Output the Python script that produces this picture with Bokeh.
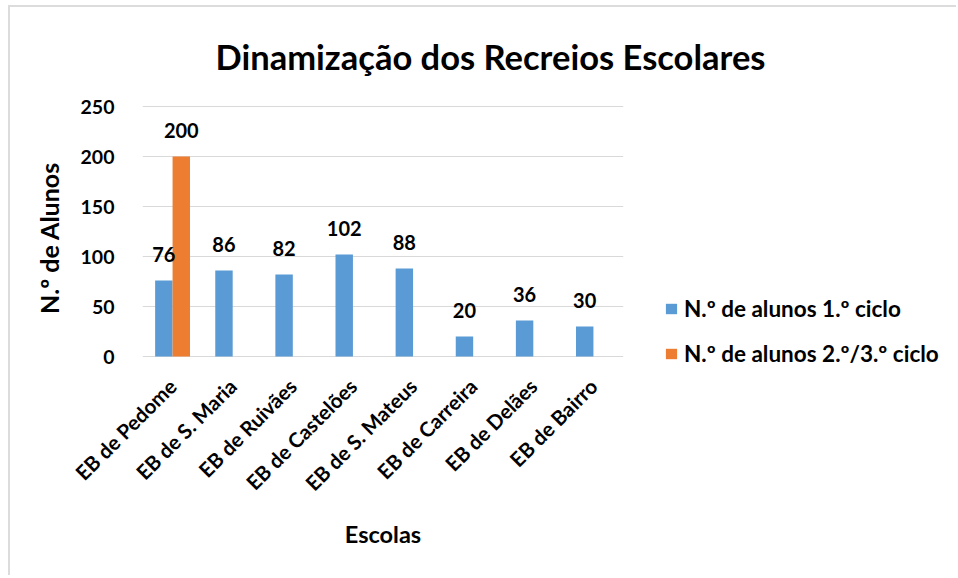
from bokeh.plotting import figure
from bokeh.models import (FactorRange, Range1d, FixedTicker, Legend, LegendItem,
                          ColumnDataSource, Label)
from bokeh.layouts import column, row
from bokeh.transform import dodge
from bokeh.core.properties import value
from bokeh.embed import file_html
from bokeh.resources import INLINE
import math

# ---- data ----
escolas = ["EB de Pedome", "EB de S. Maria", "EB de Ruivães", "EB de Castelões",
           "EB de S. Mateus", "EB de Carreira", "EB de Delães", "EB de Bairro"]
ciclo1 = [76, 86, 82, 102, 88, 20, 36, 30]
ciclo23 = [200, 0, 0, 0, 0, 0, 0, 0]
serie_nomes = ["N.º de alunos 1.º ciclo", "N.º de alunos 2.º/3.º ciclo"]
y_ticks = [0, 50, 100, 150, 200, 250]
titulo = "Dinamização dos Recreios Escolares"
eixo_y = "N.º de Alunos"
eixo_x = "Escolas"

BLUE = "#5B9BD5"
ORANGE = "#ED7D31"
GRID = "#D9D9D9"
FONT = "Lato"

TOTAL_W = 944
TITLE_H = 80
MAIN_H = 488
MAIN_W = 615


def blank(fig):
    fig.outline_line_color = None
    fig.background_fill_color = "white"
    fig.border_fill_color = "white"
    fig.xaxis.visible = False
    fig.yaxis.visible = False
    fig.grid.grid_line_color = None


# ---- title strip ----
pt = figure(width=TOTAL_W, height=TITLE_H, output_backend="svg", toolbar_location=None,
            x_range=Range1d(0, TOTAL_W), y_range=Range1d(0, TITLE_H), min_border=0)
blank(pt)
pt.add_layout(Label(x=478, y=31, text=titulo, text_align="center",
                    text_baseline="alphabetic", text_font=FONT, text_font_style="bold",
                    text_font_size="34.5px", text_color="black"))

# ---- main chart ----
p = figure(width=MAIN_W, height=MAIN_H, output_backend="svg", toolbar_location=None,
           x_range=FactorRange(*escolas, range_padding=0),
           y_range=Range1d(-14, 251),
           min_border_left=130, min_border_right=4,
           min_border_top=18, min_border_bottom=205)
p.outline_line_color = None
p.background_fill_color = "white"
p.border_fill_color = "white"

src = ColumnDataSource(dict(x=escolas, a=ciclo1, b=ciclo23))
bw = 0.29
r1 = p.vbar(x=dodge("x", -bw / 2, range=p.x_range), top="a", width=bw, source=src,
            fill_color=BLUE, line_color=None)
r2 = p.vbar(x=dodge("x", bw / 2, range=p.x_range), top="b", width=bw, source=src,
            fill_color=ORANGE, line_color=None)

# data labels (non-zero values only)
la = [(e, v) for e, v in zip(escolas, ciclo1) if v > 0]
lb = [(e, v) for e, v in zip(escolas, ciclo23) if v > 0]
srcA = ColumnDataSource(dict(x=[e for e, _ in la], y=[v for _, v in la], t=[str(v) for _, v in la]))
srcB = ColumnDataSource(dict(x=[e for e, _ in lb], y=[v for _, v in lb], t=[str(v) for _, v in lb]))
for s, off in ((srcA, -bw / 2), (srcB, bw / 2)):
    p.text(x=dodge("x", off, range=p.x_range), y="y", text="t", source=s,
           text_align="center", text_baseline="alphabetic", y_offset=-26,
           text_font=value(FONT), text_font_style="bold", text_font_size="20px",
           text_color="black")

p.yaxis.ticker = FixedTicker(ticks=y_ticks)
p.yaxis.axis_line_color = None
p.yaxis.major_tick_line_color = None
p.yaxis.minor_tick_line_color = None
p.yaxis.major_label_standoff = 22
p.yaxis.major_label_text_font = FONT
p.yaxis.major_label_text_font_style = "bold"
p.yaxis.major_label_text_font_size = "19.5px"
p.yaxis.major_label_text_color = "black"
p.yaxis.axis_label = eixo_y
p.yaxis.axis_label_text_font = FONT
p.yaxis.axis_label_text_font_style = "bold"
p.yaxis.axis_label_text_font_size = "25px"
p.yaxis.axis_label_text_color = "black"
p.yaxis.axis_label_standoff = 14

p.xaxis.axis_line_color = None
p.xaxis.major_tick_line_color = None
p.xaxis.minor_tick_line_color = None
p.xaxis.major_label_orientation = math.pi / 4
p.xaxis.major_label_standoff = 6
p.xaxis.major_label_text_font = FONT
p.xaxis.major_label_text_font_style = "bold"
p.xaxis.major_label_text_font_size = "20.5px"
p.xaxis.major_label_text_color = "black"
p.xaxis.axis_label = eixo_x
p.xaxis.axis_label_text_font = FONT
p.xaxis.axis_label_text_font_style = "bold"
p.xaxis.axis_label_text_font_size = "23.5px"
p.xaxis.axis_label_text_color = "black"
p.xaxis.axis_label_standoff = 13

p.xgrid.grid_line_color = None
p.ygrid.grid_line_color = GRID
p.ygrid.grid_line_width = 1

# ---- legend strip ----
pl = figure(width=TOTAL_W - MAIN_W, height=MAIN_H, output_backend="svg",
            toolbar_location=None, x_range=Range1d(0, 1), y_range=Range1d(0, 1),
            min_border=0)
blank(pl)
g1 = pl.vbar(x=[0], top=[0], width=0.01, fill_color=BLUE, line_color=None)
g2 = pl.vbar(x=[0], top=[0], width=0.01, fill_color=ORANGE, line_color=None)
legend = Legend(items=[LegendItem(label=serie_nomes[0], renderers=[g1]),
                       LegendItem(label=serie_nomes[1], renderers=[g2])],
                location=(37, 3), orientation="vertical",
                glyph_width=14, glyph_height=13, label_height=27, label_standoff=6,
                spacing=18, padding=0, margin=0,
                border_line_color=None, background_fill_alpha=0,
                label_text_font=FONT, label_text_font_style="bold",
                label_text_font_size="22.5px", label_text_color="black")
pl.add_layout(legend, "center")

layout = column(pt, row(p, pl))
layout.styles = {"margin-left": "8px", "margin-top": "5px", "padding-left": "2px",
                 "border-left": "2px solid #DCDCDC", "border-top": "2px solid #DCDCDC"}

open("out.html", "w").write(file_html(layout, INLINE))
